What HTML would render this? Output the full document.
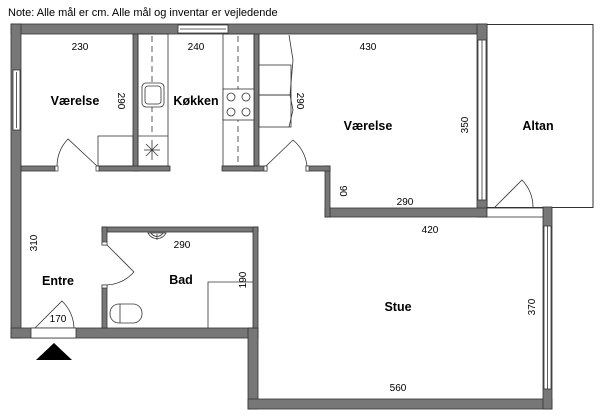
<!DOCTYPE html>
<html><head><meta charset="utf-8"><style>
body{margin:0;background:#fff;}
svg{display:block;}
text{font-family:"Liberation Sans",sans-serif;fill:#000;}
.n{font-size:10px;}
.b{font-size:12.5px;font-weight:bold;}
</style></head><body>
<svg width="600" height="418" viewBox="0 0 600 418" xmlns="http://www.w3.org/2000/svg">
<text x="8" y="16" style="font-size:11px">Note: Alle mål er cm. Alle mål og inventar er vejledende</text>
<rect x="487" y="24.5" width="106" height="183" fill="#fff" stroke="#333" stroke-width="1"/>
<g fill="#777" stroke="#333" stroke-width="0.8">
<rect x="11" y="24" width="476" height="10"/>
<rect x="11" y="24" width="10" height="314"/>
<rect x="11" y="328" width="247" height="10"/>
<rect x="248" y="328" width="10" height="81"/>
<rect x="248" y="399" width="304" height="10"/>
<rect x="543" y="207" width="9" height="202"/>
<rect x="477" y="24" width="10" height="193"/>
<rect x="325" y="208" width="162" height="9"/>
<rect x="325" y="166" width="5" height="51"/>
<rect x="306" y="166" width="24" height="5"/>
<rect x="133" y="34" width="5" height="137"/>
<rect x="254" y="34" width="5" height="137"/>
<rect x="21" y="166" width="34" height="5"/>
<rect x="98" y="166" width="72" height="5"/>
<rect x="222" y="166" width="45" height="5"/>
<rect x="102" y="227" width="156" height="5"/>
<rect x="253" y="227" width="5" height="101"/>
<rect x="102" y="227" width="5" height="18"/>
<rect x="102" y="285" width="5" height="43"/>
</g>
<g fill="#fff" stroke="#333" stroke-width="0.8">
<rect x="178" y="25" width="50" height="8"/>
<line x1="180" y1="29" x2="226" y2="29"/>
<rect x="13" y="70" width="7" height="60"/>
<line x1="16.5" y1="72" x2="16.5" y2="128"/>
<rect x="478" y="40" width="8" height="160"/>
<line x1="482" y1="40" x2="482" y2="200"/>
<rect x="544" y="226" width="7" height="163"/>
<line x1="547.5" y1="226" x2="547.5" y2="389"/>
<rect x="31" y="328" width="45" height="10"/>
<rect x="487" y="208" width="56" height="9"/>
</g>
<g fill="#fff" stroke="#333" stroke-width="0.7">
<rect x="55" y="166" width="3" height="5"/><rect x="96" y="166" width="3" height="5"/>
<rect x="264" y="166" width="3" height="5"/><rect x="306" y="166" width="3" height="5"/>
<rect x="102" y="242" width="5" height="3"/><rect x="102" y="285" width="5" height="3"/>
</g>
<g fill="none" stroke="#333" stroke-width="0.8">
<path d="M97 166 L68 139 A40 40 0 0 0 57 166"/>
<path d="M266 166 L293 140 A40 40 0 0 1 307 166"/>
<path d="M35 328 L62 301 A40 40 0 0 1 74 328"/>
<path d="M107 245 L134 272 A40 40 0 0 1 107 285"/>
<path d="M494 208 L522 180 A40 40 0 0 1 533 208"/>
</g>
<g fill="none" stroke="#333" stroke-width="0.8">
<rect x="138" y="34" width="30" height="132"/>
<line x1="138" y1="136" x2="168" y2="136"/>
<line x1="152" y1="36" x2="152" y2="134" stroke-dasharray="6,4"/>
<rect x="142" y="83" width="22" height="24" rx="4" fill="#fff"/>
<rect x="145" y="86" width="16" height="18" rx="3"/>
<line x1="152" y1="140" x2="152" y2="160"/><line x1="144" y1="150" x2="160" y2="150"/>
<line x1="146" y1="144" x2="158" y2="156"/><line x1="158" y1="144" x2="146" y2="156"/>
<rect x="223" y="34" width="31" height="132"/>
<line x1="238" y1="36" x2="238" y2="164" stroke-dasharray="6,4"/>
<rect x="223" y="89" width="31" height="31" fill="#fff"/>
<circle cx="231" cy="97" r="4"/><circle cx="246" cy="97" r="4"/>
<circle cx="231" cy="112" r="4"/><circle cx="246" cy="112" r="4"/>
<rect x="259" y="65" width="32" height="30"/><rect x="259" y="95" width="32" height="32"/>
<line x1="259" y1="34" x2="259" y2="65"/>
<polyline points="289,35 293,60 290,95 293,110 289,127"/>
<rect x="98" y="136" width="35" height="30"/>
<path d="M148 233 A10 10 0 0 0 166 233 Z"/>
<path d="M151 233 A7 7 0 0 0 163 233"/>
<line x1="157" y1="234" x2="157" y2="240"/>
<rect x="110" y="304" width="32" height="19" rx="9"/>
<line x1="120" y1="304" x2="120" y2="323"/>
<polyline points="208,328 208,282 253,282"/>
</g>
<polygon points="36,360 72,360 54,343" fill="#000"/>
<g class="n" text-anchor="middle">
<text x="80" y="50">230</text>
<text x="196" y="50">240</text>
<text x="368" y="50">430</text>
<text x="405" y="205">290</text>
<text x="430" y="233">420</text>
<text x="182" y="248">290</text>
<text x="58" y="322">170</text>
<text x="398" y="391">560</text>
<text transform="translate(118,101) rotate(90)">290</text>
<text transform="translate(297,101) rotate(90)">290</text>
<text transform="translate(468,125) rotate(-90)">350</text>
<text transform="translate(340,191) rotate(90)">90</text>
<text transform="translate(37,243) rotate(-90)">310</text>
<text transform="translate(246,280) rotate(-90)">190</text>
<text transform="translate(535,307) rotate(-90)">370</text>
</g>
<g class="b" text-anchor="middle">
<text x="75" y="105">Værelse</text>
<text x="196" y="105">Køkken</text>
<text x="368" y="130">Værelse</text>
<text x="538" y="130">Altan</text>
<text x="58" y="285">Entre</text>
<text x="181" y="284">Bad</text>
<text x="398" y="311">Stue</text>
</g>
</svg>
</body></html>
